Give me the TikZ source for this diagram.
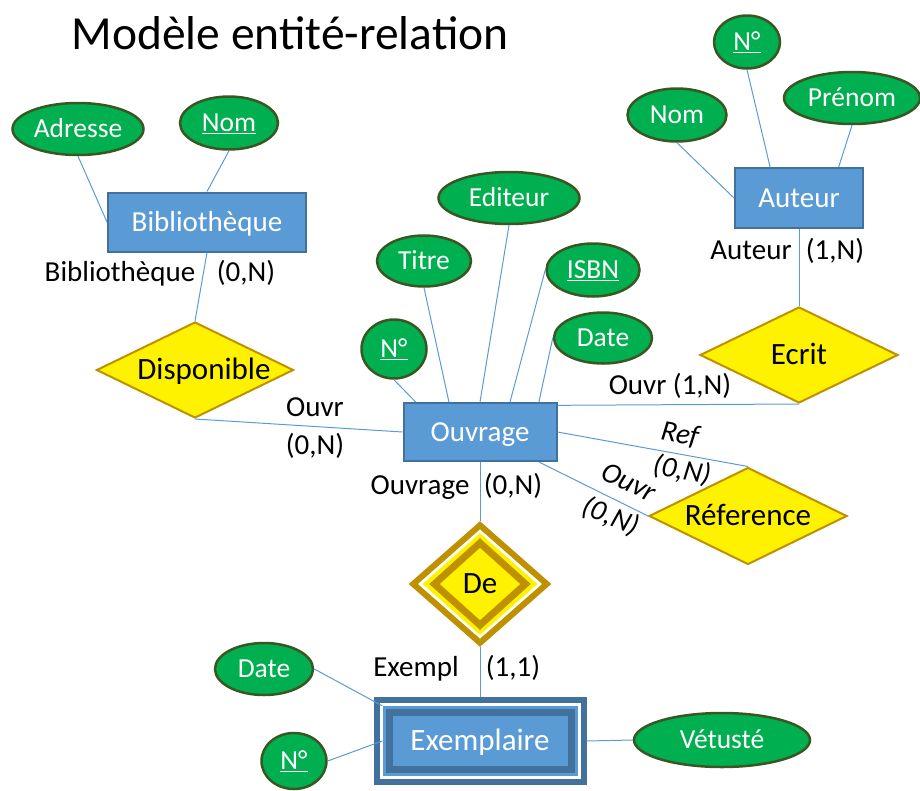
\documentclass[tikz,border=0pt]{standalone}
\usepackage{fontspec}
\setmainfont{Carlito}
\usetikzlibrary{shapes.geometric}
\definecolor{attrgreen}{HTML}{00B050}
\definecolor{attrborder}{HTML}{385723}
\definecolor{entblue}{HTML}{5B9BD5}
\definecolor{entborder}{HTML}{41719C}
\definecolor{relborder}{HTML}{BF9000}

\begin{document}
\begin{tikzpicture}[x=1pt,y=-1pt,
	attr/.style={ellipse, draw=attrborder, line width=2.5, fill=attrgreen, text=white, inner sep=0,
		font=\fontsize{27.5}{30}\selectfont, text height=17.4pt, text depth=0pt},
	entity/.style={rectangle, draw=entborder, line width=2, fill=entblue, text=white, inner sep=0,
		font=\fontsize{29}{32}\selectfont, text height=18.3pt, text depth=0pt},
	rel/.style={diamond, aspect=2, draw=relborder, line width=2, fill=yellow, inner sep=0,
		font=\fontsize{31}{34}\selectfont, text height=19.6pt, text depth=0pt},
	card/.style={inner sep=0, font=\fontsize{29}{32}\selectfont, text height=18.3pt, text depth=0pt},
	link/.style={draw=entblue, line width=1}]
	\useasboundingbox (0,0) rectangle (920,790);
	
	\node[card, font=\fontsize{47.5}{52}\selectfont, text height=30pt] (entete) at (290,34) {Modèle entité-relation};
	
		% Bibliotheque
		\node[entity, minimum width=198, minimum height=59] (biblio) at (207,222) {Bibliothèque};
		\node[attr, minimum width=131, minimum height=52] (adresse) at (78,129) {Adresse};
		\node[attr, minimum width=98, minimum height=53] (nomB) at (229,123) {\underline{Nom}};
		\node[rel, minimum width=197, minimum height=96] (dispo) at (195,370) {\hspace*{18pt}Disponible};
		
		% Ouvrage
		\node[entity, minimum width=153, minimum height=58] (ouvrage) at (480,432) {Ouvrage};
		\node[attr, minimum width=65, minimum height=59] (numO) at (394,349) {\underline{N°}};
		\node[attr, minimum width=94, minimum height=51] (titre) at (424,261) {Titre};
		\node[attr, minimum width=141, minimum height=52] (editeur) at (509,198) {Editeur};
		\node[attr, minimum width=93, minimum height=53] (isbn) at (593,270) {\underline{ISBN}};
		\node[attr, minimum width=98, minimum height=51] (dateO) at (603,338) {Date};
		
		% Auteur
		\node[entity, minimum width=128, minimum height=60] (auteur) at (799,198) {Auteur};
		\node[attr, minimum width=66, minimum height=53] (numA) at (747,42) {\underline{N°}};
		\node[attr, minimum width=99, minimum height=53] (nomA) at (677,115) {Nom};
		\node[attr, minimum width=136, minimum height=52] (prenom) at (852,98) {Prénom};
		\node[rel, minimum width=198, minimum height=96] (ecrit) at (799,355) {Ecrit};
		
		\node[rel, minimum width=198, minimum height=97] (refer) at (748,516) {Réference};
		
		% De (double)
		\node[diamond, draw=relborder, line width=6, fill=white, minimum width=136, minimum height=120, inner sep=0] (deOut) at (480,584) {};
		\node[diamond, fill=yellow, minimum width=115, minimum height=102, inner sep=0] (deRing) at (deOut.center) {};
		\node[rel, line width=7, minimum width=94, minimum height=85] (de) at (deOut.center) {De};
		
		% Exemplaire (double)
		\node[rectangle, draw=entborder, line width=6, fill=white, minimum width=207, minimum height=82] (exOut) at (480,741) {};
		\node[rectangle, fill=entblue, minimum width=195, minimum height=70] (exRing) at (exOut.center) {};
		\node[entity, line width=7, minimum width=182, minimum height=57, font=\fontsize{31}{34}\selectfont, text height=19.6pt] (exempl) at (exOut.center) {Exemplaire};
		\node[attr, minimum width=98, minimum height=52] (dateE) at (264,669) {Date};
		\node[attr, minimum width=65, minimum height=56] (numE) at (294,761) {\underline{N°}};
		\node[attr, minimum width=176, minimum height=54] (vetuste) at (722,740) {Vétusté};
		
		% cardinalites
		\node[card] (cBiblio) at (120,272) {Bibliothèque};
		\node[card] (cBiblioN) at (246,272) {(0,N)};
		\node[card] (cOuvrD) at (315,407) {Ouvr};
		\node[card] (cOuvrDN) at (315,445) {(0,N)};
		\node[card] (cOuvrE) at (670,385) {Ouvr (1,N)};
		\node[card] (cAuteur) at (751,250) {Auteur};
		\node[card] (cAuteurN) at (835,250) {(1,N)};
		\node[card] (cOuvrage) at (420,485) {Ouvrage};
		\node[card] (cOuvrageN) at (513,485) {(0,N)};
		\node[card] (cExempl) at (416,667) {Exempl};
		\node[card] (cExemplN) at (513,667) {(1,1)};
		\node[card, rotate=-10, font=\fontsize{29}{32}\selectfont\itshape] (cRef) at (680,434) {Ref};
		\node[card, rotate=-10, font=\fontsize{29}{32}\selectfont\itshape] (cRefN) at (682,470) {(0,N)};
		\node[card, rotate=-25, font=\fontsize{29}{32}\selectfont\itshape] (cOuvrR) at (629,482) {Ouvr};
		\node[card, rotate=-22, font=\fontsize{29}{32}\selectfont\itshape] (cOuvrRN) at (611,516) {(0,N)};
		
		\draw[link] (adresse.south) -- (biblio.west);
		\draw[link] (nomB.south) -- (biblio.north);
		\draw[link] (biblio.south) -- (dispo.north);
		\draw[link] (dispo.south) -- (ouvrage.west);
		
		\draw[link] (numO.south) -- (ouvrage.155);
		\draw[link] (titre.south) -- (ouvrage.136);
		\draw[link] (editeur.south) -- (ouvrage.north);
		\draw[link] (isbn.west) -- (ouvrage.45);
		\draw[link] (dateO.west) -- (ouvrage.27);
		
		\draw[link] (numA.south) -- (auteur.133);
		\draw[link] (nomA.south) -- (auteur.west);
		\draw[link] (prenom.south) -- (auteur.38);
		\draw[link] (auteur.south) -- (ecrit.north);
		\draw[link] (ouvrage.19) -- (ecrit.south);
		
		\draw[link] (ouvrage.east) -- (refer.north);
		\draw[link] (ouvrage.-27) -- (refer.west);
		
		\draw[link] (ouvrage.south) -- (deOut.north);
		\draw[link] (deOut.south) -- (exOut.north);
		\draw[link] (dateE.east) -- (exRing.north west);
		\draw[link] (numE.east) -- (exRing.west);
		\draw[link] (exOut.east) -- (vetuste.west);
		
\end{tikzpicture}
\end{document}
